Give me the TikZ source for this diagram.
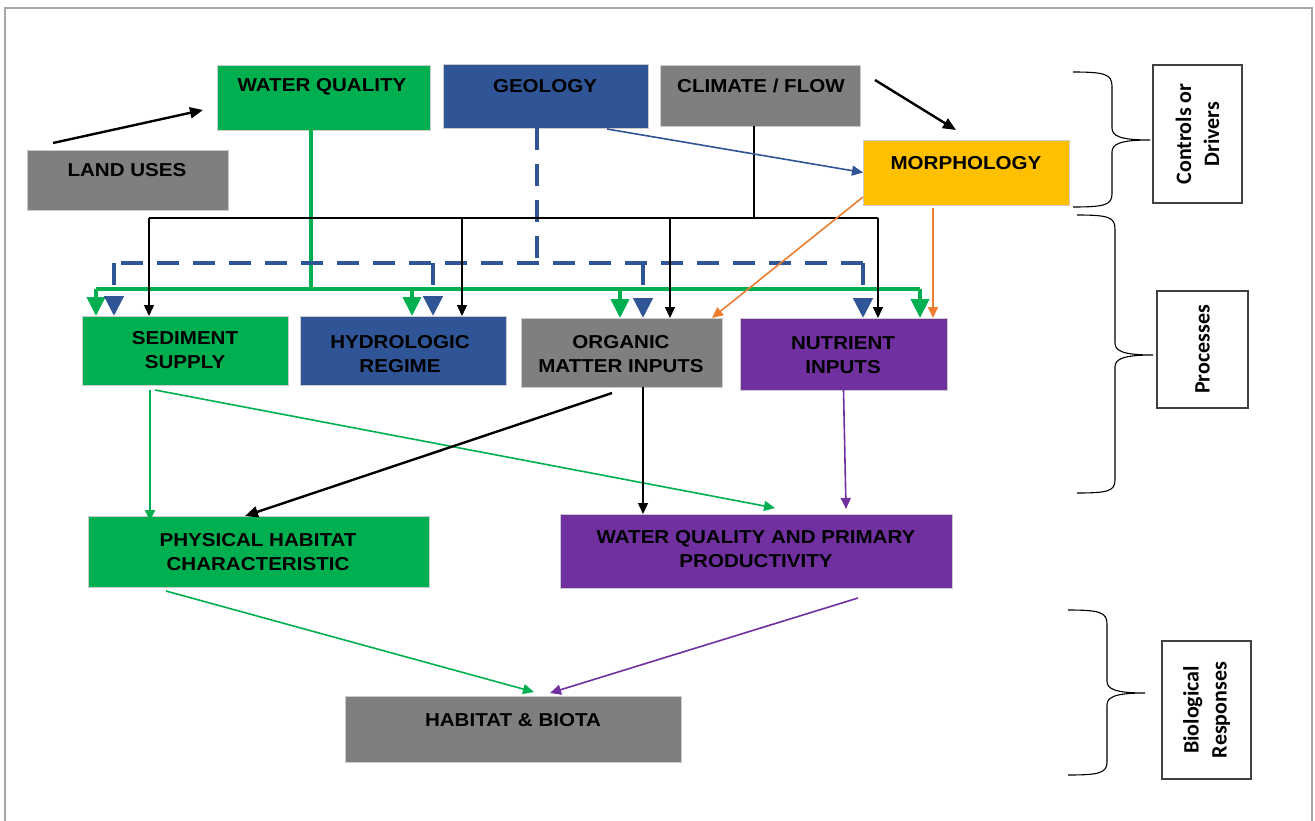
\documentclass[tikz,border=0pt]{standalone}
\usepackage{fontspec}
\setmainfont{Liberation Sans}
\newfontfamily\boxfont{Liberation Sans}[FakeStretch=1.1]
\newfontfamily\calib{Carlito}
\usetikzlibrary{arrows.meta,calc}
\definecolor{cgreen}{HTML}{00B050}
\definecolor{cblue}{HTML}{2F5597}
\definecolor{cgray}{HTML}{7F7F7F}
\definecolor{cgold}{HTML}{FFC000}
\definecolor{cpurple}{HTML}{7030A0}
\definecolor{corange}{HTML}{ED7D31}
\definecolor{cframe}{HTML}{A6A6A6}
\begin{document}
\begin{tikzpicture}[x=1pt,y=-1pt,
  box/.style={draw=white!80!black, line width=0.6pt, inner sep=0pt, outer sep=0pt},
  lbl/.style={font=\boxfont\fontsize{18.7}{24}\selectfont\bfseries, align=center, inner sep=0pt, text=black},
  sidebox/.style={draw=black!75, line width=1.3pt, inner sep=0pt, fill=white},
  sidetxt/.style={font=\calib\bfseries\fontsize{22}{28}\selectfont, align=center, rotate=90, inner sep=0pt},
  brace/.style={draw=black, line width=1.1pt},
  thintip/.style={-{Triangle[length=11pt,width=10pt]}},
  thicktip/.style={-{Triangle[length=13pt,width=11pt]}},
  gtip/.style={-{Triangle[length=19pt,width=18pt]}},
  btip/.style={-{Triangle[length=20pt,width=19pt]}},
  gbus/.style={draw=cgreen, line width=4pt},
  bdash/.style={draw=cblue, line width=4.5pt, dash pattern=on 22pt off 14pt},
  kthin/.style={draw=black, line width=1.4pt},
  kthick/.style={draw=black, line width=2.4pt},
  othin/.style={draw=corange, line width=1.6pt},
  gthin/.style={draw=cgreen, line width=1.6pt},
  pthin/.style={draw=cpurple, line width=1.6pt},
  bthin/.style={draw=cblue, line width=1.6pt}
]
\useasboundingbox (0,0) rectangle (1315,820);
\fill[white] (0,0) rectangle (1315,820);
\draw[cframe, line width=1.5pt] (5,8) rectangle (1312,830);

% boxes
\node[box, fill=cgreen, minimum width=213pt, minimum height=65pt] (wq) at (323.5,97.5) {};
\node[box, fill=cblue, minimum width=205pt, minimum height=64pt] (geo) at (545.5,96) {};
\node[box, fill=cgray, minimum width=200pt, minimum height=61pt] (clim) at (760,95.5) {};
\node[box, fill=cgray, minimum width=201pt, minimum height=60pt] (land) at (127.5,180) {};
\node[box, fill=cgold, minimum width=206pt, minimum height=65pt] (morph) at (966,172.5) {};
\node[box, fill=cgreen, minimum width=206pt, minimum height=69pt] (sed) at (185,350.5) {};
\node[box, fill=cblue, minimum width=206pt, minimum height=69pt] (hyd) at (403,350.5) {};
\node[box, fill=cgray, minimum width=201pt, minimum height=69pt] (org) at (621.5,352.5) {};
\node[box, fill=cpurple, minimum width=207pt, minimum height=72pt] (nut) at (843.5,354) {};
\node[box, fill=cgreen, minimum width=341pt, minimum height=71pt] (phys) at (258.5,551.5) {};
\node[box, fill=cpurple, minimum width=392pt, minimum height=74pt] (wqpp) at (756,551) {};
\node[box, fill=cgray, minimum width=336pt, minimum height=66pt] (hab) at (513,729) {};

% texts
\node[lbl] (wqt) at (322,87) {WATER QUALITY};
\node[lbl] (geot) at (545,86) {GEOLOGY};
\node[lbl] (climt) at (761,86) {CLIMATE / FLOW};
\node[lbl] (landt) at (127,170) {LAND USES};
\node[lbl] (morpht) at (966,163) {MORPHOLOGY};
\node[lbl] (sedt) at (185,350) {SEDIMENT\\SUPPLY};
\node[lbl] (hydt) at (400,354) {HYDROLOGIC\\REGIME};
\node[lbl] (orgt) at (621,354) {ORGANIC\\MATTER INPUTS};
\node[lbl] (nutt) at (843,355) {NUTRIENT\\INPUTS};
\node[lbl] (physt) at (258,552) {PHYSICAL HABITAT\\CHARACTERISTIC};
\node[lbl] (wqppt) at (756,549) {WATER QUALITY AND PRIMARY\\PRODUCTIVITY};
\node[lbl] (habt) at (513,720) {HABITAT \& BIOTA};

% bus junction coordinates
\coordinate (gj) at (311,289);
\coordinate (gL) at (96,289);
\coordinate (g2) at (412,289);
\coordinate (g3) at (620,289);
\coordinate (gR) at (920,289);
\coordinate (bj) at (537,263);
\coordinate (bL) at (114,263);
\coordinate (b2) at (433,263);
\coordinate (b3) at (643,263);
\coordinate (bR) at (863,263);
\coordinate (kj) at (754,218);
\coordinate (kL) at (149,218);
\coordinate (k2) at (462,218);
\coordinate (k3) at (670,218);
\coordinate (kR) at (878,218);

% green bus from water quality
\draw[gbus] ([xshift=-12.5pt]wq.south) -- (gj);
\draw[gbus] (gL) -- (gR);
\draw[gbus, gtip] (gL) -- (gL |- sed.north);
\draw[gbus, gtip] (g2) -- (g2 |- hyd.north);
\draw[gbus, gtip] (g3) -- (g3 |- org.north);
\draw[gbus, gtip] (gR) -- (gR |- nut.north);

% blue dashed bus from geology
\draw[bdash] ([xshift=-8.5pt]geo.south) -- (bj);
\draw[bdash] (bR) -- (bL);
\draw[bdash, btip] (bL) -- (bL |- sed.north);
\draw[bdash, btip] (b2) -- (b2 |- hyd.north);
\draw[bdash, btip] (b3) -- (b3 |- org.north);
\draw[bdash, btip] (bR) -- (bR |- nut.north);

% black bus from climate
\draw[kthin] ([xshift=-6pt]clim.south) -- (kj);
\draw[kthin] (kL) -- (kR);
\draw[kthin, thintip] (kL) -- (kL |- sed.north);
\draw[kthin, thintip] (k2) -- (k2 |- hyd.north);
\draw[kthin, thintip] (k3) -- (k3 |- org.north);
\draw[kthin, thintip] (kR) -- (kR |- nut.north);

% top arrows
\draw[kthick, thicktip] ([xshift=26pt,yshift=7pt]land.north west) -- ([xshift=-14pt,yshift=-12.5pt]wq.west);
\draw[kthick, thicktip] ([xshift=15pt,yshift=-15pt]clim.north east) -- ([xshift=-10pt,yshift=10pt]morph.north);
\draw[bthin, thintip] ([xshift=61.5pt,yshift=-1pt]geo.south) -- (morph.west);

% orange from morphology
\draw[othin, thintip] ([yshift=8pt]morph.south west) -- ([xshift=-10pt]org.north east);
\draw[othin, thintip] ([xshift=-33pt,yshift=-3pt]morph.south) -- ([xshift=-33pt]morph.south |- nut.north);

% processes to responses
\draw[gthin, thintip] ([xshift=-35pt,yshift=-5pt]sed.south) -- ([xshift=-35pt,yshift=-5pt]sed.south |- phys.north);
\draw[gthin, thintip] ([xshift=-30pt,yshift=-5pt]sed.south) -- ([xshift=19pt,yshift=6pt]wqpp.north);
\draw[kthick, thicktip] ([xshift=-9.5pt,yshift=-6pt]org.south) -- ([xshift=-13.5pt]phys.north);
\draw[kthin, thintip] ([xshift=21.5pt]org.south) -- ([xshift=21.5pt]org.south |- wqpp.north);
\draw[pthin, thintip] (nut.south) -- ([xshift=90pt,yshift=5pt]wqpp.north);
\draw[gthin, thintip] ([xshift=-92.5pt,yshift=-4pt]phys.south) -- ([xshift=21pt,yshift=4pt]hab.north);
\draw[pthin, thintip] ([xshift=102pt,yshift=-10pt]wqpp.south) -- ([xshift=37pt,yshift=3pt]hab.north);

% braces
\draw[brace] (1073,72) .. controls (1104,72) and (1112,74) .. (1112,86) -- (1112,128)
  .. controls (1112,136) and (1120,140) .. (1150,140)
  .. controls (1120,140) and (1112,144) .. (1112,152) -- (1112,194)
  .. controls (1112,205) and (1104,207) .. (1073,207);
\draw[brace] (1077,215) .. controls (1108,215) and (1115,217) .. (1115,229) -- (1115,343)
  .. controls (1115,351) and (1123,355) .. (1153,355)
  .. controls (1123,355) and (1115,359) .. (1115,367) -- (1115,480)
  .. controls (1115,491) and (1108,493) .. (1077,493);
\draw[brace] (1068,610) .. controls (1099,610) and (1107,612) .. (1107,624) -- (1107,681)
  .. controls (1107,689) and (1115,693) .. (1145,693)
  .. controls (1115,693) and (1107,697) .. (1107,705) -- (1107,762)
  .. controls (1107,773) and (1099,775) .. (1068,775);

% side labels
\node[sidebox, minimum width=89pt, minimum height=138pt] (ctrl) at (1197.5,134) {};
\node[sidetxt] (ctrlt) at (ctrl.center) {Controls or\\Drivers};
\node[sidebox, minimum width=91pt, minimum height=117pt] (proc) at (1202.5,349.5) {};
\node[sidetxt] (proct) at (proc.center) {Processes};
\node[sidebox, minimum width=89pt, minimum height=138pt] (bio) at (1206.5,710) {};
\node[sidetxt] (biot) at (bio.center) {Biological\\Responses};
\end{tikzpicture}
\end{document}
